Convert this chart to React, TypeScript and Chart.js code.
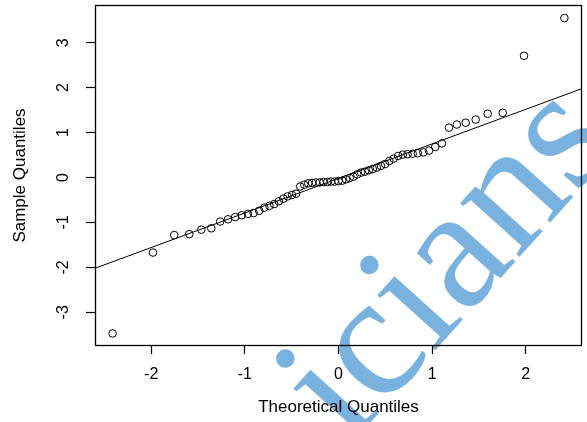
import React, { useEffect, useRef } from "react";
import { Chart, registerables } from "chart.js";

Chart.register(...registerables);

// Theoretical normal quantiles (x)
const theoreticalQuantiles = [
  -2.412, -1.981, -1.754, -1.593, -1.465, -1.358, -1.264, -1.18, -1.104, -1.033,
  -0.967, -0.906, -0.847, -0.792, -0.737, -0.687, -0.637, -0.589, -0.543, -0.497,
  -0.453, -0.409, -0.366, -0.324, -0.282, -0.241, -0.2, -0.16, -0.12, -0.08,
  -0.04, 0, 0.04, 0.08, 0.12, 0.16, 0.2, 0.241, 0.282, 0.324,
  0.366, 0.409, 0.453, 0.497, 0.543, 0.589, 0.637, 0.687, 0.737, 0.792,
  0.847, 0.906, 0.967, 1.033, 1.104, 1.18, 1.264, 1.358, 1.465, 1.593,
  1.754, 1.981, 2.412,
];

// Sample quantiles (y)
const sampleQuantiles = [
  -3.47, -1.67, -1.28, -1.26, -1.16, -1.13, -0.98, -0.93, -0.88, -0.84,
  -0.81, -0.79, -0.74, -0.67, -0.63, -0.59, -0.53, -0.47, -0.42, -0.39,
  -0.36, -0.2, -0.16, -0.13, -0.12, -0.11, -0.11, -0.1, -0.1, -0.09,
  -0.09, -0.08, -0.07, -0.04, -0.01, 0.02, 0.07, 0.11, 0.13, 0.16,
  0.19, 0.22, 0.26, 0.3, 0.37, 0.42, 0.48, 0.51, 0.52, 0.53,
  0.54, 0.56, 0.6, 0.68, 0.76, 1.11, 1.18, 1.22, 1.29, 1.42,
  1.44, 2.71, 3.55,
];

// Reference line (qqline) end points
const lineX = [-2.6, 2.6];
const lineY = [-2.02, 1.98];

const xTicks = [-2, -1, 0, 1, 2];
const yTicks = [-3, -2, -1, 0, 1, 2, 3];
const xRange = [-2.6, 2.6];
const yRange = [-3.75, 3.84];

const xTitle = "Theoretical Quantiles";
const yTitle = "Sample Quantiles";
const watermarkText = "icians";

const FONT = "'Liberation Sans', Arial, sans-serif";

const boxPlugin = {
  id: "box",
  afterDraw(chart: any) {
    const { ctx, chartArea } = chart;
    ctx.save();
    ctx.strokeStyle = "#000";
    ctx.lineWidth = 1.3;
    ctx.strokeRect(
      Math.round(chartArea.left) + 0.5,
      Math.round(chartArea.top) + 0.5,
      Math.round(chartArea.right - chartArea.left) - 1,
      Math.round(chartArea.bottom - chartArea.top) - 1
    );
    ctx.restore();
  },
};

const watermarkPlugin = {
  id: "watermark",
  beforeDraw(chart: any) {
    const ctx = chart.ctx;
    ctx.save();
    ctx.fillStyle = "rgb(122,178,223)";
    ctx.font = "174px 'Liberation Serif', serif";
    ctx.translate(455.6, 269.5);
    ctx.rotate((-48 * Math.PI) / 180);
    ctx.textAlign = "center";
    ctx.textBaseline = "alphabetic";
    ctx.fillText(watermarkText, 0, 39);
    ctx.restore();
  },
};

export default function App() {
  const canvasRef = useRef<HTMLCanvasElement | null>(null);

  useEffect(() => {
    if (!canvasRef.current) return;
    const points = theoreticalQuantiles.map((x, i) => ({ x, y: sampleQuantiles[i] }));
    const linePts = lineX.map((x, i) => ({ x, y: lineY[i] }));

    const chart = new Chart(canvasRef.current, {
      type: "scatter",
      data: {
        datasets: [
          {
            data: points,
            pointStyle: "circle",
            pointRadius: 3.8,
            pointBorderWidth: 1,
            borderColor: "#000",
            backgroundColor: "rgba(0,0,0,0)",
            showLine: false,
          } as any,
          {
            data: linePts,
            showLine: true,
            pointRadius: 0,
            borderColor: "#000",
            borderWidth: 1,
            backgroundColor: "rgba(0,0,0,0)",
          } as any,
        ],
      },
      options: {
        animation: false,
        responsive: false,
        devicePixelRatio: 1,
        layout: { padding: { top: 5, right: 2, left: 0, bottom: 0 } },
        plugins: { legend: { display: false }, tooltip: { enabled: false } },
        scales: {
          x: {
            type: "linear",
            min: xRange[0],
            max: xRange[1],
            afterBuildTicks: (s: any) => {
              s.ticks = xTicks.map((v) => ({ value: v }));
            },
            afterFit: (s: any) => {
              s.height = 76;
              s.paddingLeft = 0;
              s.paddingRight = 0;
            },
            grid: {
              drawOnChartArea: false,
              drawTicks: true,
              tickLength: 8,
              tickColor: "#000",
              tickWidth: 1.2,
            },
            border: { display: false },
            ticks: {
              color: "#000",
              font: { family: FONT, size: 16 },
              padding: 11,
              maxRotation: 0,
              autoSkip: false,
            },
            title: {
              display: true,
              text: xTitle,
              color: "#000",
              font: { family: FONT, size: 17 },
              padding: { top: 0, bottom: 4 },
            },
          },
          y: {
            type: "linear",
            min: yRange[0],
            max: yRange[1],
            afterBuildTicks: (s: any) => {
              s.ticks = yTicks.map((v) => ({ value: v }));
            },
            afterFit: (s: any) => {
              s.width = 95;
              s.paddingTop = 0;
              s.paddingBottom = 0;
            },
            grid: {
              drawOnChartArea: false,
              drawTicks: true,
              tickLength: 9,
              tickColor: "#000",
              tickWidth: 1.2,
            },
            border: { display: false },
            ticks: {
              color: "#000",
              font: { family: FONT, size: 16 },
              padding: 15,
              minRotation: 90,
              maxRotation: 90,
              crossAlign: "center",
              autoSkip: false,
            },
            title: {
              display: true,
              text: yTitle,
              color: "#000",
              font: { family: FONT, size: 17 },
              padding: { top: 10, bottom: 0 },
            },
          },
        },
      },
      plugins: [watermarkPlugin, boxPlugin],
    } as any);

    return () => chart.destroy();
  }, []);

  return (
    <div style={{ position: "absolute", left: 0, top: 0, width: 587, height: 422, background: "#fff" }}>
      <canvas ref={canvasRef} width={587} height={422} style={{ display: "block" }} />
    </div>
  );
}
